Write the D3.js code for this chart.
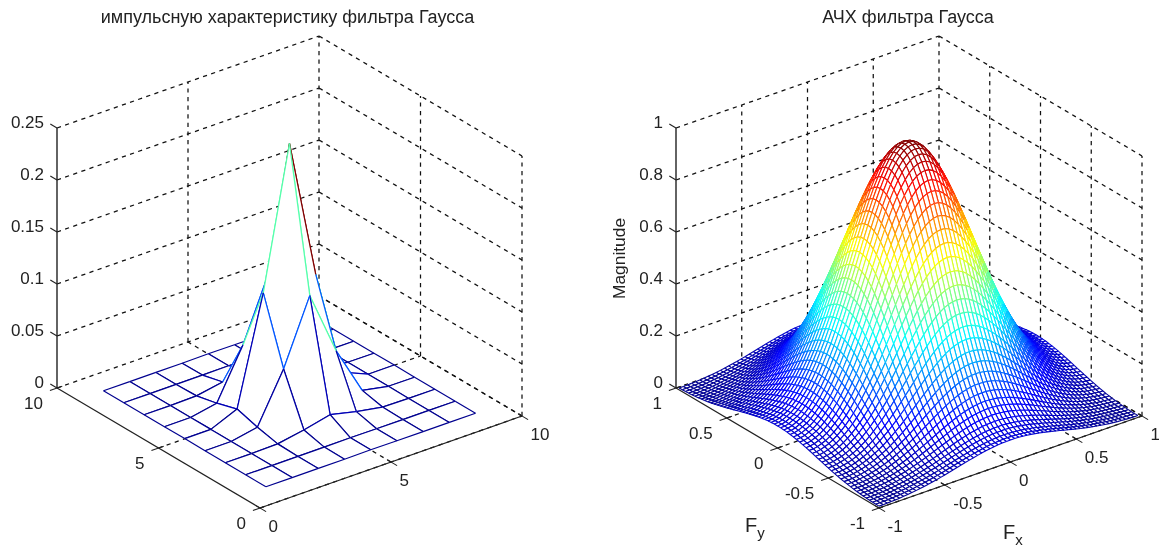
<!DOCTYPE html>
<html>
<head>
<meta charset="utf-8">
<script src="https://cdn.jsdelivr.net/npm/d3@7"></script>
<style>
  html, body { margin: 0; background: #fff; overflow: hidden; }
  #chart { filter: blur(0.4px); }
  text { font-family: "Liberation Sans", Arial, sans-serif; fill: #222; }
</style>
</head>
<body>
<svg id="chart" width="1159" height="547"></svg>
<script>
// impulse response, 9x9 samples on x,y = 1..9
const impulseAxis = [1, 2, 3, 4, 5, 6, 7, 8, 9];
const impulseValues = [
  [0, 0, 0, 0, 0.0002, 0, 0, 0, 0],
  [0, 0, 0, 0.0001, 0.0002, 0.0001, 0, 0, 0],
  [0, 0, 0.0005, 0.005, 0.0109, 0.005, 0.0005, 0, 0],
  [0, 0.0001, 0.005, 0.0521, 0.1138, 0.0521, 0.005, 0.0001, 0],
  [0.0002, 0.0002, 0.0109, 0.1138, 0.2486, 0.1138, 0.0109, 0.0002, 0.0002],
  [0, 0.0001, 0.005, 0.0521, 0.1138, 0.0521, 0.005, 0.0001, 0],
  [0, 0, 0.0005, 0.005, 0.0109, 0.005, 0.0005, 0, 0],
  [0, 0, 0, 0.0001, 0.0002, 0.0001, 0, 0, 0],
  [0, 0, 0, 0, 0.0002, 0, 0, 0, 0],
];

// frequency axis, 64 samples from -1 in steps of 1/32
const freqAxis = d3.range(64).map((k) => -1 + k / 32);
// magnitude along one frequency axis.
// the filter is separable so the 64x64 mesh is this profile times itself
const magnitudeProfile = [
  0.085, 0.086, 0.09, 0.098, 0.107, 0.12, 0.136, 0.155, 0.176, 0.201, 0.229,
  0.26, 0.294, 0.33, 0.37, 0.411, 0.455, 0.5, 0.547, 0.594, 0.642, 0.689,
  0.735, 0.779, 0.821, 0.86, 0.895, 0.926, 0.952, 0.973, 0.988, 0.997, 1,
  0.997, 0.988, 0.973, 0.952, 0.926, 0.895, 0.86, 0.821, 0.779, 0.735, 0.689,
  0.642, 0.594, 0.547, 0.5, 0.455, 0.411, 0.37, 0.33, 0.294, 0.26, 0.229,
  0.201, 0.176, 0.155, 0.136, 0.12, 0.107, 0.098, 0.09, 0.086,
];
const magnitudeValues = magnitudeProfile.map((a) =>
  magnitudeProfile.map((b) => a * b)
);

const leftXTicks = [0, 5, 10];
const leftZTicks = [0, 0.05, 0.1, 0.15, 0.2, 0.25];
const leftZLabels = ["0", "0.05", "0.1", "0.15", "0.2", "0.25"];
const rightXTicks = [-1, -0.5, 0, 0.5, 1];
const rightZTicks = [0, 0.2, 0.4, 0.6, 0.8, 1];

const svg = d3.select("#chart");

const jet = d3
  .scaleLinear()
  .domain([0, 0.125, 0.375, 0.625, 0.875, 1])
  .range(["#00008f", "#0000ff", "#00ffff", "#ffff00", "#ff0000", "#800000"])
  .clamp(true);

const line = d3.line();

function drawPanel(opts) {
  const g = svg.append("g");
  const { xTicks, yTicks, zTicks, front, ex, ey, ez } = opts;
  const xDom = [xTicks[0], xTicks[xTicks.length - 1]];
  const yDom = [yTicks[0], yTicks[yTicks.length - 1]];
  const zDom = [zTicks[0], zTicks[zTicks.length - 1]];

  const xPx = d3.scaleLinear().domain(xDom).range([0, ex[0]]);
  const xPy = d3.scaleLinear().domain(xDom).range([0, ex[1]]);
  const yPx = d3.scaleLinear().domain(yDom).range([0, ey[0]]);
  const yPy = d3.scaleLinear().domain(yDom).range([0, ey[1]]);
  const zPy = d3.scaleLinear().domain(zDom).range([0, -ez]);

  const project = (x, y, z) => [
    front[0] + xPx(x) + yPx(y),
    front[1] + xPy(x) + yPy(y) + zPy(z),
  ];

  const xSpan = xDom[1] - xDom[0];
  const ySpan = yDom[1] - yDom[0];

  function dashed(a, b) {
    g.append("path")
      .attr("d", line([a, b]))
      .attr("fill", "none")
      .attr("stroke", "#111")
      .attr("stroke-width", 1.25)
      .attr("stroke-dasharray", "4.2,4.4");
  }

  function solid(a, b, w) {
    g.append("path")
      .attr("d", line([a, b]))
      .attr("fill", "none")
      .attr("stroke", "#222")
      .attr("stroke-width", w);
  }

  // back walls and floor grid
  zTicks.forEach((z) => {
    dashed(project(xDom[0], yDom[1], z), project(xDom[1], yDom[1], z));
    dashed(project(xDom[1], yDom[1], z), project(xDom[1], yDom[0], z));
  });
  xTicks.forEach((x) => {
    if (x !== xDom[0]) {
      dashed(project(x, yDom[1], zDom[0]), project(x, yDom[1], zDom[1]));
      dashed(project(x, yDom[0], zDom[0]), project(x, yDom[1], zDom[0]));
    }
  });
  yTicks.forEach((y) => {
    if (y !== yDom[1]) {
      dashed(project(xDom[1], y, zDom[0]), project(xDom[1], y, zDom[1]));
      dashed(project(xDom[0], y, zDom[0]), project(xDom[1], y, zDom[0]));
    }
  });

  // mesh, far cells first so that near ones hide them
  const { xs, ys, values } = opts;
  const zMin = d3.min(values, (r) => d3.min(r));
  const zMax = d3.max(values, (r) => d3.max(r));
  const color = (v) => jet((v - zMin) / (zMax - zMin));
  const pt = (i, j) => project(xs[i], ys[j], values[j][i]);

  const cells = [];
  for (let i = xs.length - 2; i >= 0; i--) {
    for (let j = ys.length - 2; j >= 0; j--) {
      cells.push([i, j]);
    }
  }

  const cell = g
    .append("g")
    .selectAll("g")
    .data(cells)
    .join("g")
    .attr("fill", "none")
    .attr("stroke-width", opts.meshWidth);

  cell
    .append("path")
    .attr("fill", "#fff")
    .attr("d", ([i, j]) =>
      line([pt(i, j), pt(i + 1, j), pt(i + 1, j + 1), pt(i, j + 1)]) + "Z"
    );

  // each edge takes the colour of its lower index end
  const edges = [
    [0, 0, 1, 0],
    [0, 0, 0, 1],
    [1, 0, 1, 1],
    [0, 1, 1, 1],
  ];
  edges.forEach(([a, b, c, d]) => {
    cell
      .append("path")
      .attr("stroke", ([i, j]) => color(values[j + b][i + a]))
      .attr("d", ([i, j]) => line([pt(i + a, j + b), pt(i + c, j + d)]));
  });

  // solid axes
  solid(project(xDom[0], yDom[1], zDom[0]), project(xDom[0], yDom[1], zDom[1]), 1.4);
  solid(project(xDom[0], yDom[0], zDom[0]), project(xDom[0], yDom[1], zDom[0]), 1.2);
  solid(project(xDom[0], yDom[0], zDom[0]), project(xDom[1], yDom[0], zDom[0]), 1.2);

  // ticks and labels
  const fs = 17;
  zTicks.forEach((z, k) => {
    const p = project(xDom[0], yDom[1], z);
    solid(p, project(xDom[0], yDom[1] + ySpan * 0.033, z), 1.1);
    g.append("text")
      .attr("x", p[0] - 13)
      .attr("y", p[1] - 6)
      .attr("dy", "0.36em")
      .attr("text-anchor", "end")
      .attr("font-size", fs)
      .text(opts.zLabels ? opts.zLabels[k] : String(z));
  });
  xTicks.forEach((x) => {
    const p = project(x, yDom[0], zDom[0]);
    solid(project(x, yDom[0] + ySpan * 0.02, zDom[0]), project(x, yDom[0] - ySpan * 0.03, zDom[0]), 1.1);
    g.append("text")
      .attr("x", p[0] + 8.5)
      .attr("y", p[1] + 18)
      .attr("dy", "0.36em")
      .attr("font-size", fs)
      .text(String(x));
  });
  yTicks.forEach((y) => {
    const p = project(xDom[0], y, zDom[0]);
    solid(project(xDom[0] + xSpan * 0.02, y, zDom[0]), project(xDom[0] - xSpan * 0.027, y, zDom[0]), 1.1);
    g.append("text")
      .attr("x", p[0] - 14)
      .attr("y", p[1] + 15)
      .attr("dy", "0.36em")
      .attr("text-anchor", "end")
      .attr("font-size", fs)
      .text(String(y));
  });

  g.append("text")
    .attr("x", opts.titleX)
    .attr("y", 23)
    .attr("text-anchor", "middle")
    .attr("font-size", 18)
    .text(opts.title);
}

drawPanel({
  title: "импульсную характеристику фильтра Гаусса",
  titleX: 287.5,
  xTicks: leftXTicks,
  yTicks: leftXTicks,
  zTicks: leftZTicks,
  zLabels: leftZLabels,
  xs: impulseAxis,
  ys: impulseAxis,
  values: impulseValues,
  front: [260, 508],
  ex: [262, -92],
  ey: [-203, -120],
  ez: 260,
  meshWidth: 1.2,
});

drawPanel({
  title: "АЧХ фильтра Гаусса",
  titleX: 908,
  xTicks: rightXTicks,
  yTicks: rightXTicks,
  zTicks: rightZTicks,
  xs: freqAxis,
  ys: freqAxis,
  values: magnitudeValues,
  front: [879, 508],
  ex: [263, -92],
  ey: [-203, -120],
  ez: 260,
  meshWidth: 1.1,
});

// axis titles of the right panel
svg
  .append("text")
  .attr("transform", "translate(625,258.5) rotate(-90)")
  .attr("text-anchor", "middle")
  .attr("font-size", 17.4)
  .text("Magnitude");

function subLabel(x, y, sub) {
  const t = svg.append("text").attr("x", x).attr("y", y).attr("font-size", 20);
  t.append("tspan").text("F");
  t.append("tspan").attr("dy", 6).attr("font-size", 15).text(sub);
}
subLabel(745, 532, "y");
subLabel(1003, 539, "x");
</script>
</body>
</html>
